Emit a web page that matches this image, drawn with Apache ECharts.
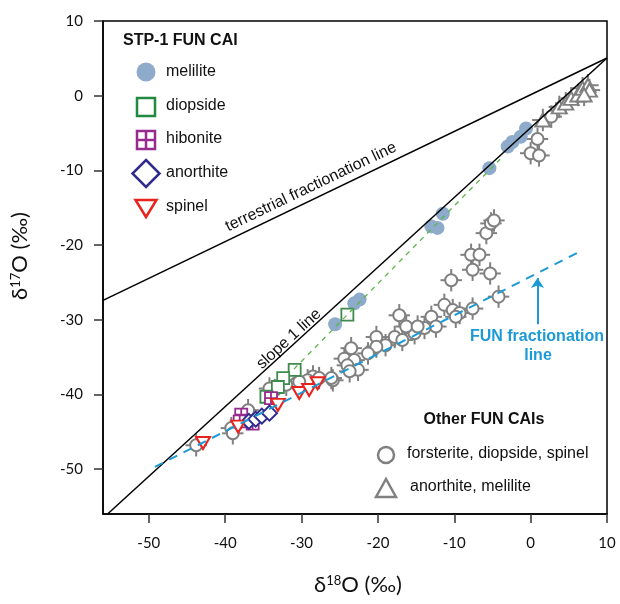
<!DOCTYPE html>
<html><head><meta charset="utf-8">
<script src="https://cdn.jsdelivr.net/npm/echarts@6/dist/echarts.min.js"></script>
<style>html,body{margin:0;padding:0;background:#fff}#c{width:620px;height:604px}</style>
</head><body><div id="c"></div>
<script>
// ---- axis ticks ----
const xTicks = [-50, -40, -30, -20, -10, 0, 10];
const yTicks = [-50, -40, -30, -20, -10, 0, 10];

// ---- reference lines (δ18O, δ17O) ----
const terrestrialLine = [[-56, -27.4], [10, 5.05]];
const slope1Line = [[-55.4, -56], [10, 5.05]];
const stpMixLine = [[-31, -36.6], [-4, -8.5]];
const funLine = [[-49.2, -49.7], [6.4, -20.9]];
const funArrow = [[0.9, -30.6], [0.9, -24.4]];

// ---- STP-1 FUN CAI ----
const melilite = [[-0.6, -4.4], [-1.3, -5.5], [-2.4, -6.2], [-3.0, -6.8], [-5.4, -9.7],
  [-11.5, -15.8], [-13.0, -17.5], [-12.2, -17.7], [-22.4, -27.3], [-23.1, -27.8], [-25.6, -30.6]];
const diopside = [[-24.0, -29.3], [-30.9, -36.7], [-32.4, -37.8], [-33.1, -39.0], [-34.6, -40.3]];
const hibonite = [[-34.0, -40.5], [-37.9, -42.7], [-38.1, -43.6], [-36.4, -43.9]];
const anorthite = [[-36.9, -43.6], [-36.0, -43.3], [-35.2, -42.9], [-34.2, -42.5]];
const spinel = [[-42.9, -46.5], [-38.3, -44.3], [-33.1, -41.4], [-30.3, -39.8], [-29.0, -39.4], [-27.9, -38.5]];

// ---- Other FUN CAIs ----
const otherCircles = [
  [0.9, -5.8], [0.0, -7.7], [1.1, -8.0], [2.7, -2.8],
  [-5.8, -18.4], [-5.2, -17.1], [-4.8, -16.7], [-7.8, -21.3], [-6.7, -21.3], [-7.6, -23.3], [-5.3, -23.8],
  [-10.4, -24.7], [-4.2, -26.9], [-7.6, -28.5], [-11.3, -28.0], [-10.2, -28.7], [-9.3, -29.1], [-9.8, -29.6],
  [-17.2, -29.4], [-13.0, -29.6], [-12.4, -30.9], [-13.9, -31.1], [-15.2, -31.8], [-16.3, -30.9], [-14.8, -30.9],
  [-17.8, -32.3], [-20.2, -32.3], [-16.8, -32.7], [-19.0, -33.4], [-20.2, -33.6], [-21.3, -34.5],
  [-23.5, -33.8], [-24.4, -35.2], [-23.1, -35.4], [-24.0, -36.1], [-22.6, -36.7], [-23.7, -36.9], [-25.9, -38.1],
  [-26.1, -37.8], [-28.5, -37.6], [-30.7, -38.5], [-27.7, -37.8], [-29.2, -38.1], [-30.3, -38.3],
  [-32.0, -38.7], [-33.5, -39.4], [-34.2, -39.2], [-37.0, -42.1], [-39.2, -44.5], [-39.0, -45.2], [-43.8, -46.8]];
const otherTriangles = [[1.6, -3.25], [3.75, -1.5], [4.6, -1.0], [5.3, -0.35], [6.2, 0.1],
  [6.8, 1.0], [7.5, 1.4], [7.7, 0.75], [7.0, 0.1]];
const errX = 1.4;
const errY = 1.5;

const GRAY = '#808080';
const chart = echarts.init(document.getElementById('c'), null, {renderer: 'canvas'});

function errorBars(data) {
  return {
    type: 'custom', data: data, silent: true, clip: true,
    renderItem: function (params, api) {
      const x = api.value(0), y = api.value(1);
      const a = api.coord([x - errX, y]), b = api.coord([x + errX, y]);
      const c = api.coord([x, y - errY]), d = api.coord([x, y + errY]);
      const st = {stroke: GRAY, lineWidth: 2};
      return {type: 'group', children: [
        {type: 'line', shape: {x1: a[0], y1: a[1], x2: b[0], y2: b[1]}, style: st},
        {type: 'line', shape: {x1: c[0], y1: c[1], x2: d[0], y2: d[1]}, style: st}
      ]};
    }
  };
}
function lineSeries(data, color, width, type) {
  return {type: 'line', data: data, symbol: 'none', silent: true, clip: true,
    lineStyle: {color: color, width: width, type: type}};
}

const txtFont = '"Liberation Sans", Arial, sans-serif';
const axFont = 'Lato, "Open Sans", sans-serif';

const graphic = [
  // legend STP-1
  {type: 'text', left: 123, top: 33, style: {text: 'STP-1 FUN CAI', font: 'bold 16px ' + txtFont, fill: '#111'}},
  {type: 'circle', shape: {cx: 146, cy: 72, r: 9.5}, style: {fill: '#8eabcb'}},
  {type: 'rect', shape: {x: 137, y: 98, width: 18, height: 18}, style: {fill: '#fff', stroke: '#1f8a40', lineWidth: 2.5}},
  {type: 'rect', shape: {x: 137, y: 131, width: 18, height: 18}, style: {fill: '#fff', stroke: '#962a8e', lineWidth: 2.5}},
  {type: 'line', shape: {x1: 146, y1: 131, x2: 146, y2: 149}, style: {stroke: '#962a8e', lineWidth: 2.5}},
  {type: 'line', shape: {x1: 137, y1: 140, x2: 155, y2: 140}, style: {stroke: '#962a8e', lineWidth: 2.5}},
  {type: 'polygon', shape: {points: [[146, 160], [159.5, 173.5], [146, 187], [132.5, 173.5]]}, style: {fill: '#fff', stroke: '#2e2b8c', lineWidth: 2.5}},
  {type: 'polygon', shape: {points: [[135.5, 200], [156.5, 200], [146, 217]]}, style: {fill: '#fff', stroke: '#e8231e', lineWidth: 2.5}},
  {type: 'text', x: 166, y: 72, style: {text: 'melilite', font: '16px ' + txtFont, fill: '#111', verticalAlign: 'middle'}},
  {type: 'text', x: 166, y: 106, style: {text: 'diopside', font: '16px ' + txtFont, fill: '#111', verticalAlign: 'middle'}},
  {type: 'text', x: 166, y: 139, style: {text: 'hibonite', font: '16px ' + txtFont, fill: '#111', verticalAlign: 'middle'}},
  {type: 'text', x: 166, y: 173, style: {text: 'anorthite', font: '16px ' + txtFont, fill: '#111', verticalAlign: 'middle'}},
  {type: 'text', x: 166, y: 207, style: {text: 'spinel', font: '16px ' + txtFont, fill: '#111', verticalAlign: 'middle'}},
  // legend Other
  {type: 'text', x: 484, y: 420, style: {text: 'Other FUN CAIs', font: 'bold 16px ' + txtFont, fill: '#111', align: 'center', verticalAlign: 'middle'}},
  {type: 'circle', shape: {cx: 386, cy: 455, r: 8}, style: {fill: '#fff', stroke: GRAY, lineWidth: 2.5}},
  {type: 'polygon', shape: {points: [[376, 497], [396, 497], [386, 479]]}, style: {fill: '#fff', stroke: GRAY, lineWidth: 2.5}},
  {type: 'text', x: 407, y: 454, style: {text: 'forsterite, diopside, spinel', font: '16px ' + txtFont, fill: '#111', verticalAlign: 'middle'}},
  {type: 'text', x: 410, y: 487, style: {text: 'anorthite, melilite', font: '16px ' + txtFont, fill: '#111', verticalAlign: 'middle'}},
  // line annotations
  {type: 'text', x: 311, y: 187, rotation: 25.6 * Math.PI / 180, style: {text: 'terrestrial fractionation line', font: '16px ' + txtFont, fill: '#111', align: 'center', verticalAlign: 'middle'}},
  {type: 'text', x: 289, y: 339, rotation: 42.4 * Math.PI / 180, style: {text: 'slope 1 line', font: '16px ' + txtFont, fill: '#111', align: 'center', verticalAlign: 'middle'}},
  {type: 'text', x: 537, y: 337, style: {text: 'FUN fractionation', font: 'bold 16px ' + txtFont, fill: '#1c9ad6', align: 'center', verticalAlign: 'middle'}},
  {type: 'text', x: 538, y: 356, style: {text: 'line', font: 'bold 16px ' + txtFont, fill: '#1c9ad6', align: 'center', verticalAlign: 'middle'}},
  // axis titles
  {type: 'text', x: 358, y: 585, style: {
    text: '{d|δ}{s|18}{d|O (‰)}', align: 'center', verticalAlign: 'middle',
    rich: {d: {font: '22px ' + axFont, fill: '#111'}, s: {font: '13px ' + axFont, fill: '#111', verticalAlign: 'top', padding: [0, 0, 8, 0]}}}},
  {type: 'text', x: 20, y: 256, rotation: Math.PI / 2, style: {
    text: '{d|δ}{s|17}{d|O (‰)}', align: 'center', verticalAlign: 'middle',
    rich: {d: {font: '22px ' + axFont, fill: '#111'}, s: {font: '13px ' + axFont, fill: '#111', verticalAlign: 'top', padding: [0, 0, 8, 0]}}}}
];

const axisCommon = {
  type: 'value', min: -56, max: 10,
  splitLine: {show: false},
  axisLine: {show: true, onZero: false, lineStyle: {color: '#000', width: 1.5}},
  axisTick: {show: true, inside: false, length: 9, lineStyle: {color: '#333', width: 1.5}},
  axisLabel: {fontFamily: 'Lato, "Open Sans", sans-serif', fontSize: 15, color: '#111'}
};

chart.setOption({
  animation: false,
  backgroundColor: '#fff',
  grid: {left: 103, right: 13, top: 21, bottom: 90, show: true, borderColor: '#000', borderWidth: 1.5},
  xAxis: Object.assign({}, axisCommon, {
    axisTick: Object.assign({}, axisCommon.axisTick, {customValues: xTicks}),
    axisLabel: Object.assign({}, axisCommon.axisLabel, {customValues: xTicks, margin: 22})
  }),
  yAxis: Object.assign({}, axisCommon, {
    axisTick: Object.assign({}, axisCommon.axisTick, {customValues: yTicks}),
    axisLabel: Object.assign({}, axisCommon.axisLabel, {customValues: yTicks, margin: 20})
  }),
  series: [
    lineSeries(terrestrialLine, '#000', 1.5, 'solid'),
    lineSeries(slope1Line, '#000', 1.5, 'solid'),
    lineSeries(stpMixLine, '#5cb548', 1.3, [5, 5]),
    lineSeries(funLine, '#1c9ad6', 2, [9, 7]),
    {type: 'lines', coordinateSystem: 'cartesian2d', silent: true, symbol: ['none', 'arrow'], symbolSize: 10,
      lineStyle: {color: '#1c9ad6', width: 2, opacity: 1}, data: [{coords: funArrow}]},
    errorBars(otherCircles.concat(otherTriangles)),
    {type: 'scatter', data: otherCircles, symbol: 'circle', symbolSize: 12, silent: true,
      itemStyle: {color: '#fff', borderColor: GRAY, borderWidth: 2, opacity: 1}},
    {type: 'scatter', data: otherTriangles, symbol: 'triangle', symbolSize: [15, 13], silent: true,
      itemStyle: {color: '#fff', borderColor: GRAY, borderWidth: 2, opacity: 1}},
    {type: 'scatter', data: melilite, symbol: 'circle', symbolSize: 14, silent: true,
      itemStyle: {color: '#8eabcb', opacity: 1}},
    {type: 'scatter', data: diopside, symbol: 'rect', symbolSize: 12, silent: true,
      itemStyle: {color: '#fff', borderColor: '#3f8a4f', borderWidth: 1.8, opacity: 1}},
    {type: 'scatter', data: hibonite, symbol: 'path://M0,0L10,0L10,10L0,10Z M5,0L5,10 M0,5L10,5', symbolSize: 12, silent: true,
      itemStyle: {color: '#fff', borderColor: '#962a8e', borderWidth: 1.8, opacity: 1}},
    {type: 'scatter', data: anorthite, symbol: 'diamond', symbolSize: 15, silent: true,
      itemStyle: {color: '#fff', borderColor: '#2e2b8c', borderWidth: 2, opacity: 1}},
    {type: 'scatter', data: spinel, symbol: 'triangle', symbolRotate: 180, symbolSize: [14, 12], silent: true,
      itemStyle: {color: '#fff', borderColor: '#e8231e', borderWidth: 2, opacity: 1}}
  ],
  graphic: graphic
});
</script></body></html>
